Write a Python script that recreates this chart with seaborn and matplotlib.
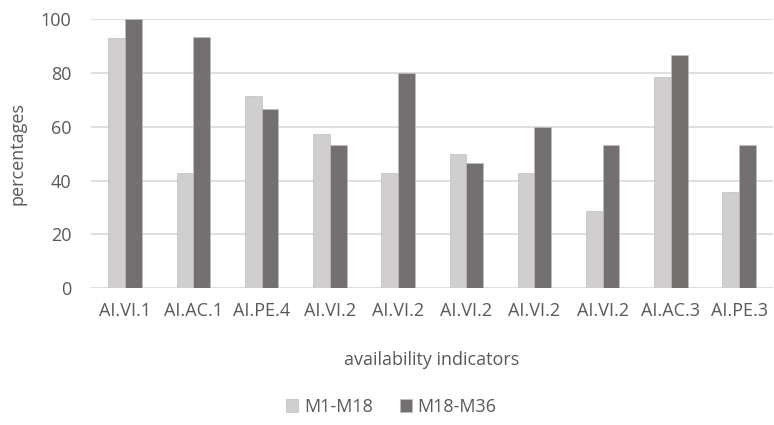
import matplotlib
matplotlib.use("Agg")
import matplotlib.pyplot as plt
import seaborn as sns
import pandas as pd
from matplotlib import font_manager

categories = ["AI.VI.1", "AI.AC.1", "AI.PE.4", "AI.VI.2", "AI.VI.2",
              "AI.VI.2", "AI.VI.2", "AI.VI.2", "AI.AC.3", "AI.PE.3"]
m1_m18 = [92.86, 42.86, 71.43, 57.14, 42.86, 50.0, 42.86, 28.57, 78.57, 35.71]
m18_m36 = [100.0, 93.33, 66.67, 53.33, 80.0, 46.67, 60.0, 53.33, 86.67, 53.33]
series_names = ["M1-M18", "M18-M36"]
yticks = [0, 20, 40, 60, 80, 100]

sns.set_theme(style="white")
names = {f.name for f in font_manager.fontManager.ttflist}
fam = "Liberation Sans Narrow" if "Liberation Sans Narrow" in names else "Open Sans"
plt.rcParams['font.family'] = [fam, 'DejaVu Sans']

txt = "#595959"
df = pd.DataFrame({
    "pos": [str(i) for i in range(len(categories))] * 2,
    "value": m1_m18 + m18_m36,
    "series": [series_names[0]] * len(categories) + [series_names[1]] * len(categories),
})

fig = plt.figure(figsize=(7.74, 4.25), dpi=100)
ax = fig.add_axes([0.1176, 0.322, 0.8814, 0.633])
sns.barplot(data=df, x="pos", y="value", hue="series", ax=ax,
            palette=["#D0CECE", "#757070"], width=0.49, gap=0,
            edgecolor="#BFBFBF", linewidth=0.5, saturation=1)
ax.set_xlim(-0.5, len(categories) - 0.5)
ax.set_ylim(0, 100)
ax.set_yticks(yticks)
ax.set_yticklabels([str(t) for t in yticks])
ax.set_xticks(range(len(categories)))
ax.set_xticklabels(categories)
ax.tick_params(axis="both", colors=txt, labelsize=13, length=0)
ax.tick_params(axis="x", pad=10)
ax.tick_params(axis="y", pad=14)
ax.yaxis.grid(True, color="#D9D9D9", linewidth=1.2)
ax.set_axisbelow(True)
for s in ax.spines.values():
    s.set_visible(False)
ax.set_xlabel("availability indicators", color=txt, fontsize=13, labelpad=22)
ax.set_ylabel("percentages", color=txt, fontsize=13, labelpad=10)
leg = ax.legend(loc="center", bbox_to_anchor=(0.44, -0.44), ncol=2, frameon=False,
                fontsize=13, handlelength=0.7, handleheight=0.7, handletextpad=0.3,
                columnspacing=1.5)
for t in leg.get_texts():
    t.set_color(txt)
fig.savefig("out.png", dpi=100)
